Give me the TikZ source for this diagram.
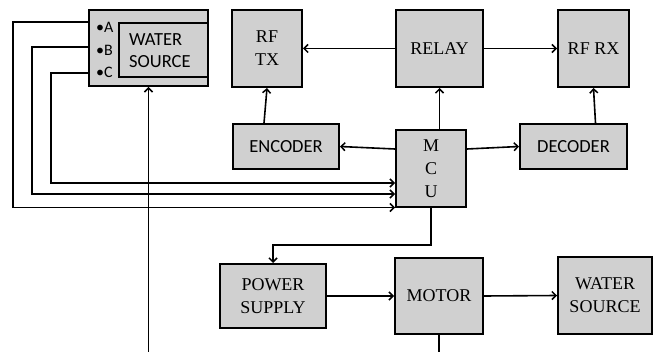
\documentclass[tikz,border=0pt]{standalone}
\usepackage{fontspec}
\setmainfont{Liberation Serif}
\newfontfamily\calib{Carlito}
\usetikzlibrary{arrows.meta,calc}
\definecolor{boxfill}{RGB}{208,208,208}
\begin{document}
\begin{tikzpicture}[x=1pt,y=-1pt,
  blk/.style={draw=black,line width=2pt,fill=boxfill,inner sep=0pt,align=center,
    font=\fontsize{18}{23}\selectfont},
  sblk/.style={blk,font=\calib\fontsize{18.5}{23}\selectfont},
  arr/.style={line width=1.6pt,-{Straight Barb[length=4pt,width=8pt,line width=1.5pt]}},
  ln/.style={line width=1.6pt}]
\useasboundingbox (0,0) rectangle (653,352);
% top row
\node[blk,minimum width=70pt,minimum height=77pt] (rftx) at (267,48.5) {RF\\TX};
\node[blk,minimum width=87pt,minimum height=77pt] (relay) at (439.5,48.5) {RELAY};
\node[blk,minimum width=71pt,minimum height=77pt] (rfrx) at (593.5,48.5) {RF RX};
% middle row
\node[sblk,minimum width=106pt,minimum height=45pt] (enc) at (286,146.5) {ENCODER};
\node[blk,minimum width=70pt,minimum height=77pt] (mcu) at (431,168.5) {M\\C\\U};
\node[sblk,minimum width=107pt,minimum height=45pt] (dec) at (573.5,146.5) {DECODER};
% bottom row
\node[blk,minimum width=106pt,minimum height=64pt] (ps) at (273,296) {POWER\\SUPPLY};
\node[blk,minimum width=88pt,minimum height=76pt] (motor) at (439,296) {MOTOR};
\node[blk,minimum width=94pt,minimum height=77pt] (ws) at (605,295.5) {WATER\\SOURCE};
% tank
\node[blk,minimum width=119pt,minimum height=76pt] (tank) at (148.5,48) {};
\node[blk,minimum width=89pt,minimum height=54pt] (inner) at (163.5,50) {};
\node[font=\calib\fontsize{18.5}{22}\selectfont,align=left,anchor=west,inner sep=0pt] (tanklbl) at (129,51) {WATER\\SOURCE};
\node[font=\calib\fontsize{16}{19}\selectfont,anchor=west,inner sep=0pt] (la) at (96,27) {•A};
\node[font=\calib\fontsize{16}{19}\selectfont,anchor=west,inner sep=0pt] (lb) at (96,50) {•B};
\node[font=\calib\fontsize{16}{19}\selectfont,anchor=west,inner sep=0pt] (lc) at (96,72) {•C};
\coordinate (wbot) at (148,352);
\coordinate (mbot) at (439,352);
% connectors
\draw[arr] (relay.west) -- (rftx.east);
\draw[arr] (relay.east) -- (rfrx.west);
\draw[arr] ([xshift=-22pt]enc.north) -- (rftx.south);
\draw[arr] (mcu.north -| relay.south) -- (relay.south);
\draw[arr] ($(mcu.north west)+(0,20)$) -- (enc.east);
\draw[arr] ($(mcu.north east)+(0,20)$) -- (dec.west);
\draw[arr] ([xshift=22pt]dec.north) -- (rfrx.south);
\draw[arr] ($(tank.north west)+(0,13)$) -- ++(-75,0) |- ($(mcu.south west)+(0,-0.5)$);
\draw[arr] ($(tank.north west)+(0,38)$) -- ++(-56,0) |- ($(mcu.south west)+(0,-14)$);
\draw[arr] ($(tank.north west)+(0,64)$) -- ++(-37,0) |- ($(mcu.south west)+(0,-25)$);
\draw[arr] (wbot) -- (tank.south |- wbot) -- (tank.south);
\draw[arr] (mcu.south) -- ++(0,37) -| (ps.north);
\draw[arr] (ps.east) -- (motor.west);
\draw[arr] (motor.east) -- (ws.west);
\draw[ln] (motor.south) -- (motor.south |- mbot);
\end{tikzpicture}
\end{document}
